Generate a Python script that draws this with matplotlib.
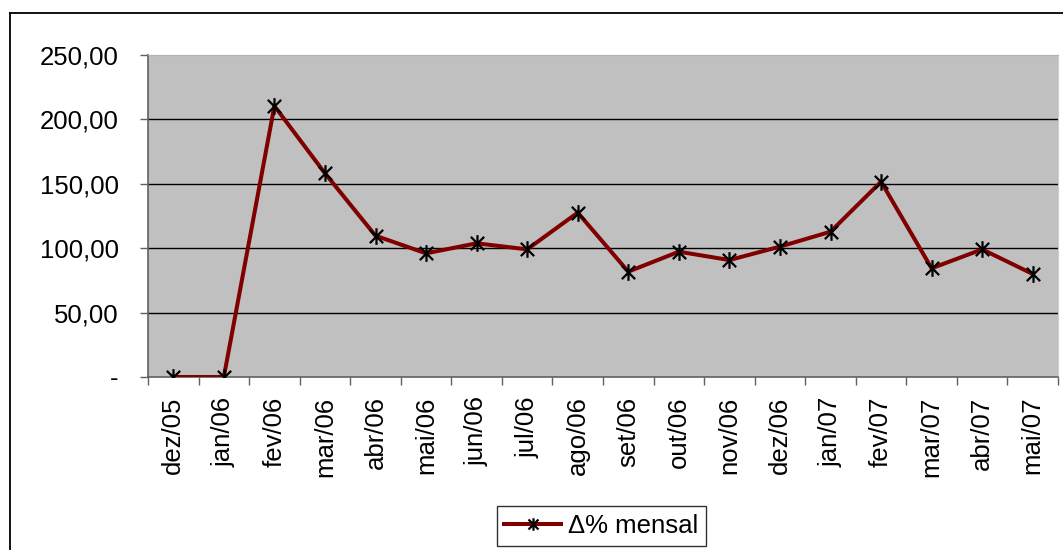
import matplotlib
matplotlib.use("Agg")
import matplotlib.pyplot as plt
from matplotlib.lines import Line2D
from matplotlib.path import Path
from matplotlib.ticker import FixedLocator, FuncFormatter

# Monthly variation series
months = ["dez/05", "jan/06", "fev/06", "mar/06", "abr/06", "mai/06", "jun/06",
          "jul/06", "ago/06", "set/06", "out/06", "nov/06", "dez/06", "jan/07",
          "fev/07", "mar/07", "abr/07", "mai/07"]
variacao = [0.0, 0.0, 210.4, 158.2, 109.7, 96.0, 103.8, 99.1, 127.6, 81.8,
            97.3, 90.8, 101.2, 112.8, 151.6, 84.4, 99.1, 80.0]
y_ticks = [0, 50, 100, 150, 200, 250]
series_label = "\u0394% mensal"

plt.rcParams["font.family"] = ["Liberation Sans", "DejaVu Sans"]
FS = 18.5

W, H = 1063, 550
fig = plt.figure(figsize=(W / 100, H / 100), dpi=100)
fig.patch.set_facecolor("white")

# plot area in pixel bounds
left, right, top, bottom = 148, 1058, 55, 377
ax = fig.add_axes([left / W, 1 - bottom / H, (right - left) / W, (bottom - top) / H])
ax.set_facecolor("#C0C0C0")

# asterisk marker: an X crossed by a vertical stroke
star = Path([(-1, -1), (1, 1), (-1, 1), (1, -1), (0, -1.25), (0, 1.25)],
            [Path.MOVETO, Path.LINETO, Path.MOVETO, Path.LINETO, Path.MOVETO, Path.LINETO])

x = list(range(len(months)))
ax.plot(x, variacao, color="#800000", lw=2.9, marker=star, markersize=12,
        markeredgecolor="black", markerfacecolor="none", markeredgewidth=1.6,
        label=series_label, zorder=3, solid_joinstyle="round")

ax.set_xlim(-0.5, len(months) - 0.5)
ax.set_ylim(y_ticks[0], y_ticks[-1])

# horizontal gridlines
for v in y_ticks[1:-1]:
    ax.axhline(v, color="black", lw=1.0, zorder=1)

# y axis
ax.yaxis.set_major_locator(FixedLocator(y_ticks))
ax.yaxis.set_major_formatter(FuncFormatter(
    lambda v, p: "-" if v == 0 else f"{v:.2f}".replace(".", ",")))
ax.tick_params(axis="y", direction="out", length=6, width=1, color="#606060",
               pad=15, labelsize=FS)

# x axis: ticks at category boundaries, labels at category centers
ax.set_xticks([i - 0.5 for i in range(len(months) + 1)])
ax.set_xticklabels([])
ax.set_xticks(x, minor=True)
ax.set_xticklabels(months, minor=True, rotation=90, fontsize=FS)
ax.tick_params(axis="x", which="major", direction="out", length=6, width=1, color="#606060")
ax.tick_params(axis="x", which="minor", length=0, pad=14)

for side in ["left", "bottom"]:
    ax.spines[side].set_color("#606060")
    ax.spines[side].set_linewidth(1.2)
ax.spines["top"].set_color("#B0B0B0")
ax.spines["right"].set_color("#D0D0D0")

# chart frame
fig.add_artist(Line2D([10 / W, 1.0], [1 - 13 / H, 1 - 13 / H], transform=fig.transFigure,
                      color="black", lw=1.3))
fig.add_artist(Line2D([10 / W, 10 / W], [0.0, 1 - 13 / H], transform=fig.transFigure,
                      color="black", lw=1.3))

leg = ax.legend(loc="center", bbox_to_anchor=(601.5 / W, 1 - 526 / H),
                bbox_transform=fig.transFigure, fontsize=FS, frameon=True,
                fancybox=False, edgecolor="black", handlelength=2.2,
                handletextpad=0.3, borderpad=0.3, markerscale=0.75)
leg.get_frame().set_linewidth(1.0)

fig.savefig("out.png", dpi=100, facecolor="white")
